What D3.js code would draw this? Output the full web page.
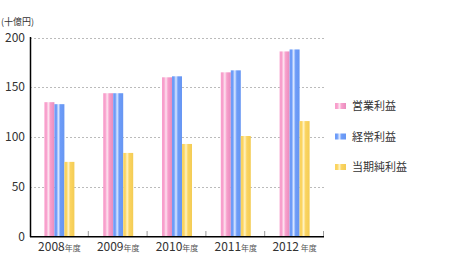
<!DOCTYPE html>
<html>
<head>
<meta charset="utf-8">
<script src="https://cdn.jsdelivr.net/npm/d3@7"></script>
<style>
body { margin: 0; background: #fff; }
text { font-family: "Noto Sans CJK JP", "Noto Sans", sans-serif; fill: #333; }
</style>
</head>
<body>
<script>
var years = ["2008", "2009", "2010", "2011", "2012"];
var yearSuffix = ["年度", "年度", "年度", "年度", " 年度"];
var seriesNames = ["営業利益", "経常利益", "当期純利益"];
var operating = [135, 144, 160, 165, 186];
var ordinary = [133, 144, 161, 167, 188];
var netIncome = [75, 84, 93, 101, 116];
var yTicks = [0, 50, 100, 150, 200];

var seriesValues = [operating, ordinary, netIncome];
var colors = [
	{ edge: "#f89fcc", light: "#fde4f0", dark: "#e88dbd" },
	{ edge: "#6d9cf8", light: "#dce8ff", dark: "#6796f2" },
	{ edge: "#fbd460", light: "#fff3c4", dark: "#f3cc55" }
];

var WIDTH = 471;
var HEIGHT = 271;

var svg = d3.select("body")
	.append("svg")
	.attr("width", WIDTH)
	.attr("height", HEIGHT);

var defs = svg.append("defs");
colors.forEach(function(c, i) {
	var g = defs.append("linearGradient")
		.attr("id", "grad" + i)
		.attr("x1", "0%").attr("x2", "100%")
		.attr("y1", "0%").attr("y2", "0%");
	g.append("stop").attr("offset", "0%").attr("stop-color", c.edge);
	g.append("stop").attr("offset", "20%").attr("stop-color", c.edge);
	g.append("stop").attr("offset", "40%").attr("stop-color", c.light);
	g.append("stop").attr("offset", "60%").attr("stop-color", c.edge);
	g.append("stop").attr("offset", "100%").attr("stop-color", c.dark);
});

var x0 = d3.scaleBand().domain(years).range([30, 324]);
var x1 = d3.scaleBand().domain(d3.range(3)).range([0, 30]);
var y = d3.scaleLinear().domain([0, 200]).range([236.5, 37.5]);

// grid lines
svg.selectAll("line.grid")
	.data(yTicks.slice(1))
	.enter()
	.append("line")
	.attr("class", "grid")
	.attr("x1", 30)
	.attr("x2", 324)
	.attr("y1", function(d) { return Math.round(y(d)) + 0.5; })
	.attr("y2", function(d) { return Math.round(y(d)) + 0.5; })
	.attr("stroke", "#bbb")
	.attr("stroke-dasharray", "2,2");

// bars
var groups = svg.selectAll("g.year")
	.data(years)
	.enter()
	.append("g")
	.attr("class", "year")
	.attr("transform", function(d) { return "translate(" + (x0(d) + x0.bandwidth() / 2 - 15) + ",0)"; });

groups.selectAll("rect")
	.data(function(d, i) { return seriesValues.map(function(s, k) { return { k: k, v: s[i] }; }); })
	.enter()
	.append("rect")
	.attr("x", function(d) { return x1(d.k); })
	.attr("width", x1.bandwidth())
	.attr("y", function(d) { return y(d.v); })
	.attr("height", function(d) { return y(0) - y(d.v); })
	.attr("fill", function(d) { return "url(#grad" + d.k + ")"; });

// y axis labels
svg.selectAll("text.ytick")
	.data(yTicks)
	.enter()
	.append("text")
	.attr("class", "ytick")
	.attr("x", 25)
	.attr("y", function(d) { return y(d) + 4; })
	.attr("text-anchor", "end")
	.style("font-size", "12px")
	.text(function(d) { return d; });

svg.append("text")
	.attr("x", 1)
	.attr("y", 25)
	.style("font-size", "9px")
	.text("(十億円)");

// axes lines
svg.append("line")
	.attr("x1", 30.5).attr("x2", 30.5)
	.attr("y1", 37).attr("y2", 237)
	.attr("stroke", "#000").attr("stroke-width", 1.5);
svg.append("line")
	.attr("x1", 30).attr("x2", 324)
	.attr("y1", 236.75).attr("y2", 236.75)
	.attr("stroke", "#000").attr("stroke-width", 1.5);

// category separator ticks
svg.selectAll("line.sep")
	.data(years)
	.enter()
	.append("line")
	.attr("class", "sep")
	.attr("x1", function(d) { return x0(d) + x0.bandwidth() - 0.5; })
	.attr("x2", function(d) { return x0(d) + x0.bandwidth() - 0.5; })
	.attr("y1", 231)
	.attr("y2", 236)
	.attr("stroke", "#999");

// x labels
var xl = svg.selectAll("text.xlab")
	.data(years)
	.enter()
	.append("text")
	.attr("class", "xlab")
	.attr("x", function(d) { return x0(d) + x0.bandwidth() / 2; })
	.attr("y", 251)
	.attr("text-anchor", "middle");
xl.append("tspan")
	.style("font-size", "12px")
	.text(function(d) { return d; });
xl.append("tspan")
	.style("font-size", "8px")
	.style("fill", "#555")
	.text(function(d, i) { return yearSuffix[i]; });

// legend
var legend = svg.selectAll("g.legend")
	.data(seriesNames)
	.enter()
	.append("g")
	.attr("class", "legend")
	.attr("transform", function(d, i) { return "translate(335," + (106 + i * 30.5) + ")"; });
legend.append("rect")
	.attr("x", 0).attr("y", -3)
	.attr("width", 11).attr("height", 6)
	.attr("fill", function(d, i) { return "url(#grad" + i + ")"; });
legend.append("text")
	.attr("x", 17)
	.attr("y", 4)
	.style("font-size", "11px")
	.text(function(d) { return d; });
</script>
</body>
</html>
